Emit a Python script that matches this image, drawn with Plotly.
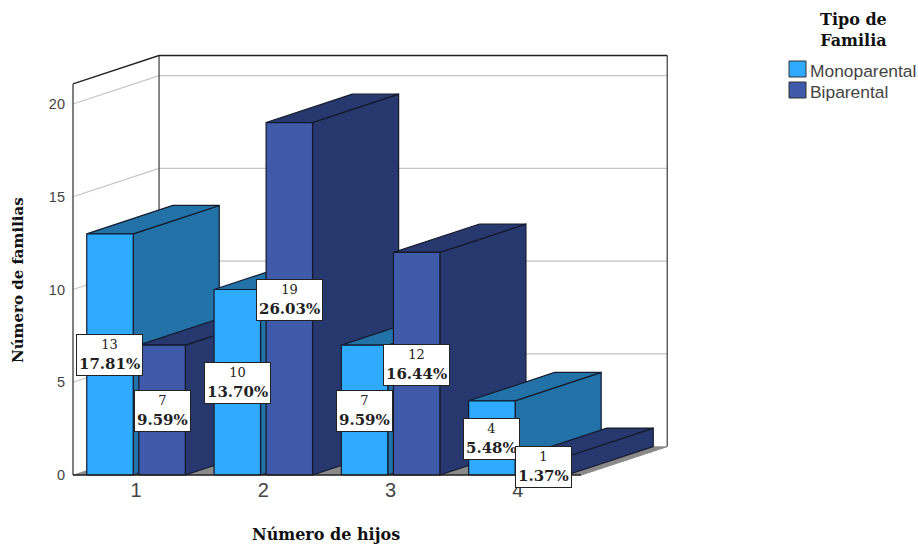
import plotly.graph_objects as go

# Family counts by number of children
categories = [1, 2, 3, 4]
monoparental = [13, 10, 7, 4]
biparental = [7, 19, 12, 1]
mono_pct = ["17.81%", "13.70%", "9.59%", "5.48%"]
bi_pct = ["9.59%", "26.03%", "16.44%", "1.37%"]
y_ticks = [0, 5, 10, 15, 20]

# Oblique box geometry, in axis units
X_MIN, X_MAX = 0.505, 4.497
Y_MAX = 21.08
DEPTH_X, DEPTH_Y = 0.676, 1.53
BAR_NEAR, BAR_FAR = 0.022, 0.387

MONO = dict(front="#2eaaff", side="#2272a8", top="#2272a8")
BI = dict(front="#3e5aa8", side="#27386e", top="#27386e")
EDGE = "#141a2c"

# Canvas layout of the plot area, in pixels, and its axis ranges
W, H = 918, 544
L, R, T, B = 71, 672, 50, 476
X_RANGE = [0.4893, 5.2104]
Y_RANGE = [-0.054, 22.91]
SERIF = "DejaVu Serif"
SANS = "Liberation Sans"


def px(x):
    return (x - L) / (R - L)


def py(y):
    return (B - y) / (B - T)


fig = go.Figure()


def poly(xs, ys, fill, line=EDGE, width=1.2):
    fig.add_trace(go.Scatter(
        x=xs + xs[:1], y=ys + ys[:1], mode="lines", fill="toself", fillcolor=fill,
        line=dict(color=line, width=width), hoverinfo="skip", showlegend=False))


def path(xs, ys, color, width=1.2):
    fig.add_trace(go.Scatter(
        x=xs, y=ys, mode="lines", line=dict(color=color, width=width),
        hoverinfo="skip", showlegend=False))


def box(x0, x1, value, colors):
    poly([x1, x1 + DEPTH_X, x1 + DEPTH_X, x1],
         [0, DEPTH_Y, value + DEPTH_Y, value], colors["side"])
    poly([x0, x1, x1 + DEPTH_X, x0 + DEPTH_X],
         [value, value, value + DEPTH_Y, value + DEPTH_Y], colors["top"])
    poly([x0, x1, x1, x0], [0, 0, value, value], colors["front"])


# Floor and walls
poly([X_MIN, X_MAX, X_MAX + DEPTH_X, X_MIN + DEPTH_X],
     [0, 0, DEPTH_Y, DEPTH_Y], "#8a8a8a", line="#8a8a8a", width=0.5)
for v in y_ticks[1:]:
    path([X_MIN, X_MIN + DEPTH_X, X_MAX + DEPTH_X],
         [v, v + DEPTH_Y, v + DEPTH_Y], "#c4c4c4", 1.2)
path([X_MIN + DEPTH_X, X_MIN + DEPTH_X], [DEPTH_Y, Y_MAX + DEPTH_Y], "#555555", 1.4)
path([X_MAX + DEPTH_X, X_MAX + DEPTH_X], [DEPTH_Y, Y_MAX + DEPTH_Y], "#555555", 1.4)
path([X_MIN, X_MIN + DEPTH_X, X_MAX + DEPTH_X],
     [Y_MAX, Y_MAX + DEPTH_Y, Y_MAX + DEPTH_Y], "#222222", 1.4)
path([X_MIN, X_MIN], [0, Y_MAX], "#555555", 1.5)

# Bars run left to right so later fronts cover earlier side faces
for c, m, b in zip(categories, monoparental, biparental):
    box(c - BAR_FAR, c - BAR_NEAR, m, MONO)
    box(c + BAR_NEAR, c + BAR_FAR, b, BI)

path([X_MIN, X_MAX], [0, 0], "#222222", 1.5)
path([X_MAX, X_MAX + DEPTH_X], [0, DEPTH_Y], "#8a8a8a", 1)

annotations = []


def value_label(x, count, pct):
    annotations.append(dict(
        x=x, y=count / 2, xref="x", yref="y", showarrow=False, yshift=-1,
        text=f"<span style='font-size:13px'>{count}</span><br><b>{pct}</b>",
        font=dict(family=SERIF, size=15, color="#222222"),
        bgcolor="white", bordercolor="#222222", borderwidth=1, borderpad=2,
        align="center"))


for c, m, mp, b, bp in zip(categories, monoparental, mono_pct, biparental, bi_pct):
    value_label(c - (BAR_FAR + BAR_NEAR) / 2, m, mp)
    value_label(c + (BAR_FAR + BAR_NEAR) / 2, b, bp)

# Axis titles are centred on the front plane of the box
annotations.append(dict(
    x=px(326), y=py(534), xref="paper", yref="paper", showarrow=False,
    xanchor="center", yanchor="middle", text="<b>Número de hijos</b>",
    font=dict(family=SERIF, size=16, color="#111111")))
annotations.append(dict(
    x=px(18), y=py(280), xref="paper", yref="paper", showarrow=False,
    xanchor="center", yanchor="middle", textangle=-90,
    text="<b>Número de familias</b>",
    font=dict(family=SERIF, size=15, color="#111111")))

# Legend block
annotations.append(dict(
    x=px(853), y=py(30), xref="paper", yref="paper", showarrow=False,
    xanchor="center", yanchor="middle",
    text="<b>Tipo de<br>Familia</b>", align="center",
    font=dict(family=SERIF, size=16, color="#111111")))
shapes = []
legend_rows = [("Monoparental", MONO["front"], 69), ("Biparental", BI["front"], 90)]
for name, color, yc in legend_rows:
    shapes.append(dict(
        type="rect", xref="paper", yref="paper",
        x0=px(789), x1=px(806), y0=py(yc + 8), y1=py(yc - 8),
        fillcolor=color, line=dict(color="#333333", width=1)))
    annotations.append(dict(
        x=px(808), y=py(yc + 2), xref="paper", yref="paper", showarrow=False,
        xanchor="left", yanchor="middle", text=name,
        font=dict(family=SANS, size=17.4, color="#444444")))

fig.update_layout(
    width=W, height=H, autosize=False,
    margin=dict(l=L, r=W - R, t=T, b=H - B),
    paper_bgcolor="white", plot_bgcolor="white", showlegend=False,
    annotations=annotations, shapes=shapes,
    xaxis=dict(
        range=X_RANGE, tickvals=categories, ticks="", showgrid=False,
        zeroline=False, showline=False,
        tickfont=dict(family=SANS, size=20, color="#444444")),
    yaxis=dict(
        range=Y_RANGE, tickvals=y_ticks, ticks="", showgrid=False,
        zeroline=False, showline=False, ticklabelstandoff=5,
        tickfont=dict(family=SANS, size=14.5, color="#444444")),
)

fig.write_html("out.html")
